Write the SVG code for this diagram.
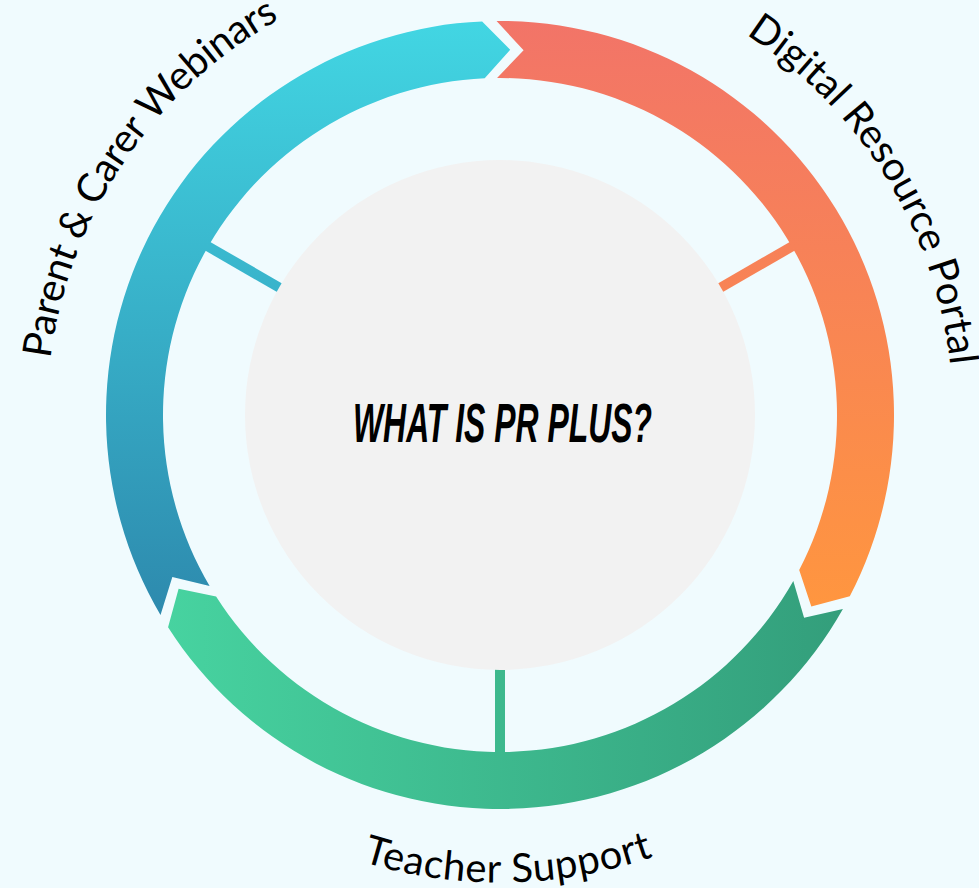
<svg xmlns="http://www.w3.org/2000/svg" width="979" height="888" viewBox="0 0 979 888">
<defs>
<linearGradient id="gCyan" gradientUnits="userSpaceOnUse" x1="0" y1="20" x2="0" y2="620">
<stop offset="0" stop-color="#42d6e3"/><stop offset="1" stop-color="#2d89ad"/>
</linearGradient>
<linearGradient id="gOrange" gradientUnits="userSpaceOnUse" x1="0" y1="20" x2="0" y2="610">
<stop offset="0" stop-color="#f27468"/><stop offset="1" stop-color="#ff963f"/>
</linearGradient>
<linearGradient id="gGreen" gradientUnits="userSpaceOnUse" x1="165" y1="0" x2="845" y2="0">
<stop offset="0" stop-color="#47d3a0"/><stop offset="1" stop-color="#339e7b"/>
</linearGradient>
<path id="arcLeft" d="M 49.48 367.65 A 453 453 0 0 1 287.33 15.02"/>
<path id="arcRight" d="M 728.55 23.88 A 453 453 0 0 1 952.06 385.77"/>
<path id="arcBottom" d="M 147.55 721.38 A 466 466 0 0 0 862.93 708.89"/>
</defs>
<style>
.label{font-family:Lato,"Noto Sans","Liberation Sans",sans-serif;font-size:40px;font-weight:normal;fill:#000}
.title{font-family:"Liberation Sans",Arial,sans-serif;font-size:55px;font-weight:bold;font-style:italic;fill:#000}
.spoke{stroke-width:10;fill:none}
</style>
<rect width="979" height="888" fill="#f0fbfe"/>
<g id="connectors">
<line class="spoke" x1="707.85" y1="295" x2="798.78" y2="242.5" stroke="url(#gOrange)"/>
<line class="spoke" x1="500" y1="655" x2="500" y2="760" stroke="url(#gGreen)"/>
<line class="spoke" x1="292.15" y1="295" x2="201.22" y2="242.5" stroke="url(#gCyan)"/>
</g>
<g id="center">
<circle cx="500" cy="415" r="255" fill="#f2f2f2"/>
<text class="title" x="353" y="442" textLength="299" lengthAdjust="spacingAndGlyphs">WHAT IS PR PLUS?</text>
</g>
<g id="digital-resource-portal">
<path d="M 496.56 21.01 A 394 394 0 0 1 849.80 596.32 L 811.31 606.52 L 799.19 570.09 A 337 337 0 0 0 497.06 78.01 L 523.59 50.26 Z" fill="url(#gOrange)"/>
<text class="label"><textPath href="#arcRight" startOffset="50%" text-anchor="middle" textLength="402">Digital Resource Portal</textPath></text>
</g>
<g id="teacher-support">
<path d="M 842.92 609.01 A 394 394 0 0 1 168.07 627.28 L 178.61 588.86 L 216.09 596.57 A 337 337 0 0 0 793.31 580.95 L 804.08 617.80 Z" fill="url(#gGreen)"/>
<text class="label"><textPath href="#arcBottom" startOffset="50%" text-anchor="middle" textLength="296">Teacher Support</textPath></text>
</g>
<g id="parent-carer-webinars">
<path d="M 160.52 614.97 A 394 394 0 0 1 482.13 21.41 L 510.21 49.64 L 484.71 78.35 A 337 337 0 0 0 209.63 586.04 L 172.33 576.94 Z" fill="url(#gCyan)"/>
<text class="label"><textPath href="#arcLeft" startOffset="50%" text-anchor="middle" textLength="425">Parent &amp; Carer Webinars</textPath></text>
</g>
</svg>
